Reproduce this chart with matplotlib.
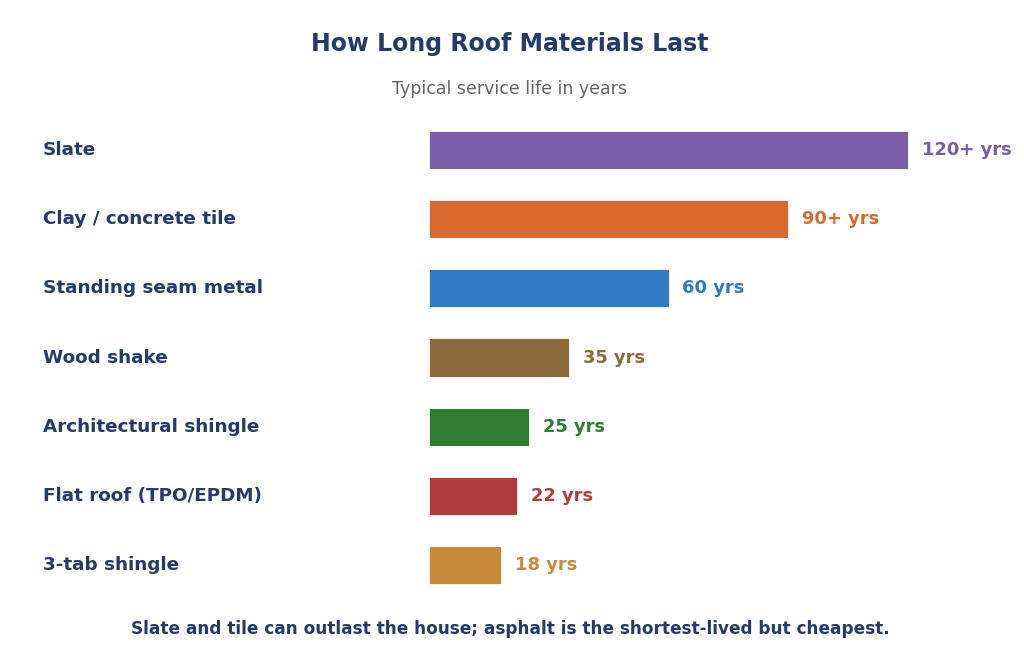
import matplotlib.pyplot as plt

plt.rcParams["font.family"] = ["DejaVu Sans"]

materials = ["Slate", "Clay / concrete tile", "Standing seam metal", "Wood shake",
             "Architectural shingle", "Flat roof (TPO/EPDM)", "3-tab shingle"]
years = [120, 90, 60, 35, 25, 22, 18]
value_labels = ["120+ yrs", "90+ yrs", "60 yrs", "35 yrs", "25 yrs", "22 yrs", "18 yrs"]
colors = ["#7B5EA7", "#D9682E", "#2E7BC4", "#8B6B3A", "#2E7D32", "#B23C3C", "#C98A3A"]

navy = "#243B6B"

fig = plt.figure(figsize=(10.24, 6.71), dpi=100)
ax = fig.add_axes([429 / 1024, 1 - 599.6 / 671, 579 / 1024, 484.2 / 671])

ypos = list(range(len(materials)))
ax.barh(ypos, years, height=0.55, color=colors, edgecolor="white", linewidth=0.6)
ax.set_xlim(0, 145)
ax.set_ylim(len(materials) - 0.5, -0.5)

for y, v, lab, c in zip(ypos, years, value_labels, colors):
    ax.annotate(lab, (v, y), xytext=(10, 0), textcoords="offset points",
                va="center", ha="left", fontsize=12.9, fontweight="bold", color=c)

for y, name in zip(ypos, materials):
    ax.annotate(name, (0, y), xycoords=("figure fraction", "data"),
                xytext=(43 / 1024 * 10.24 * 72, 0), textcoords="offset points",
                va="center", ha="left", fontsize=13.2, fontweight="bold", color=navy)

ax.axis("off")

fig.text(510 / 1024, 1 - 44 / 671, "How Long Roof Materials Last", ha="center", va="center",
         fontsize=17, fontweight="bold", color=navy)
fig.text(510 / 1024, 1 - 89 / 671, "Typical service life in years", ha="center", va="center",
         fontsize=12.5, color="#666666")
fig.text(510 / 1024, 1 - 629 / 671,
         "Slate and tile can outlast the house; asphalt is the shortest-lived but cheapest.",
         ha="center", va="center", fontsize=12.2, fontweight="bold", color=navy)

fig.savefig("out.png", dpi=100)
